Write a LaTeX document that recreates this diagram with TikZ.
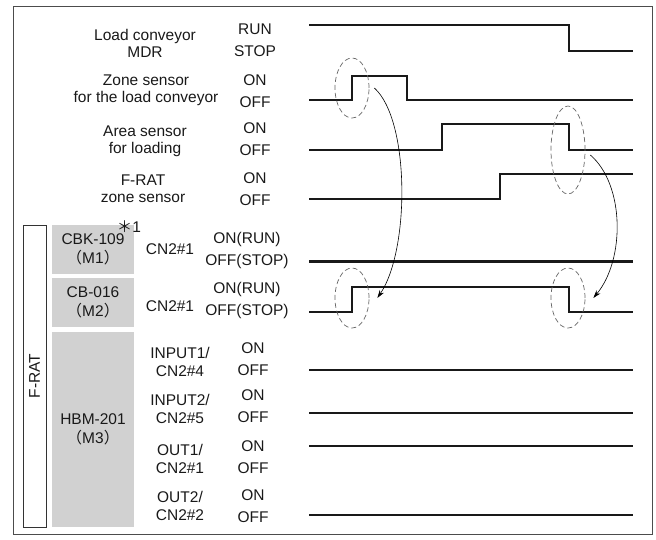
\documentclass[tikz,border=0pt]{standalone}
\usepackage{fontspec}
\setmainfont{Liberation Sans}
\newfontfamily\cjk{Noto Sans CJK JP}
\usetikzlibrary{shapes.geometric,arrows.meta}

\begin{document}
\begin{tikzpicture}[x=1pt, y=-1pt,
        every node/.style={font=\fontsize{15.5}{17}\selectfont, text=black!90, inner sep=0pt},
        gbox/.style={fill=black!18, minimum width=82pt, align=center},
        wave/.style={line width=2.4pt, black!90},
        ell/.style={draw=black!60, dash pattern=on 5pt off 3pt, line width=0.7pt, ellipse, minimum width=34pt, minimum height=60pt},
        link/.style={-{Stealth[length=8pt,width=5pt]}, line width=0.6pt}]
        \useasboundingbox (0,0) rectangle (656,540);
        \draw[black!70, line width=1pt] (13,7) rectangle (652,534);

        % Signal names
        \node[align=center] (conv) at (145,43) {Load conveyor\\MDR};
        \node[align=center] (zone) at (146,90) {Zone sensor\\for the load conveyor};
        \node[align=center] (area) at (145,141) {Area sensor\\for loading};
        \node[align=center] (fzone) at (143,189) {F-RAT\\zone sensor};

        % Levels
        \node[align=center] (lv1) at (255,40) {RUN\\[5pt]STOP};
        \node[align=center] (lv2) at (255,91.5) {ON\\[5pt]OFF};
        \node[align=center] (lv3) at (255,139.5) {ON\\[5pt]OFF};
        \node[align=center] (lv4) at (255,189.5) {ON\\[5pt]OFF};

        % F-RAT units
        \node[draw=black!80, line width=0.6pt, fill=white, rotate=90, minimum width=302pt, minimum height=23pt] (frat) at (34.5,376) {F-RAT};
        \node[gbox, minimum height=49pt] (m1) at (93,249.5) {CBK-109\\[2pt]{\cjk （}M1{\cjk ）}};
        \node[gbox, minimum height=49pt] (m2) at (93,302.5) {CB-016\\[2pt]{\cjk （}M2{\cjk ）}};
        \node[gbox, minimum height=195pt] (m3) at (93,429.5) {HBM-201\\[2pt]{\cjk （}M3{\cjk ）}};
        \node (note) at (129,227) {{\cjk ＊}1};

        \node (cn1) at (170,249) {CN2\#1};
        \node (cn2) at (170,306) {CN2\#1};
        \node[align=center] (lv5) at (247,250) {ON(RUN)\\[5pt]OFF(STOP)};
        \node[align=center] (lv6) at (247,300.5) {ON(RUN)\\[5pt]OFF(STOP)};

        \node[align=center] (in1) at (180,361.5) {INPUT1/\\[1pt]CN2\#4};
        \node[align=center] (in2) at (180,408.5) {INPUT2/\\[1pt]CN2\#5};
        \node[align=center] (out1) at (180,458.5) {OUT1/\\[1pt]CN2\#1};
        \node[align=center] (out2) at (180,505.5) {OUT2/\\[1pt]CN2\#2};
        \node[align=center] (lv7) at (253,359.5) {ON\\[5pt]OFF};
        \node[align=center] (lv8) at (253,406.5) {ON\\[5pt]OFF};
        \node[align=center] (lv9) at (253,457.5) {ON\\[5pt]OFF};
        \node[align=center] (lv10) at (253,506) {ON\\[5pt]OFF};

        % Waveforms
        \draw[wave] (309,25) -- (569,25) -- (569,51) -- (633,51);
        \draw[wave] (309,100) -- (352,100) -- (352,76) -- (407,76) -- (407,100) -- (633,100);
        \draw[wave] (309,150) -- (442,150) -- (442,124) -- (569,124) -- (569,150) -- (633,150);
        \draw[wave] (309,199) -- (500,199) -- (500,174) -- (633,174);
        \draw[wave, line width=3pt] (309,261) -- (633,261);
        \draw[wave] (309,312) -- (352,312) -- (352,287) -- (569,287) -- (569,312) -- (633,312);
        \draw[wave] (309,370) -- (633,370);
        \draw[wave] (309,413) -- (633,413);
        \draw[wave] (309,446) -- (633,446);
        \draw[wave] (309,515) -- (633,515);

        % Edges that cause the motor change
        \node[ell] (e1) at (352,88) {};
        \node[ell, minimum height=88pt] (e2) at (568,150) {};
        \node[ell] (e3) at (352,298) {};
        \node[ell] (e4) at (568,298) {};

        \draw[link] ([xshift=5pt]e1.east) .. controls (410,120) and (410,250) .. ([xshift=8pt]e3.east);
        \draw[link] ([shift={(5,5)}]e2.east) .. controls (625,185) and (625,260) .. ([xshift=8pt]e4.east);
    \end{tikzpicture}
\end{document}
